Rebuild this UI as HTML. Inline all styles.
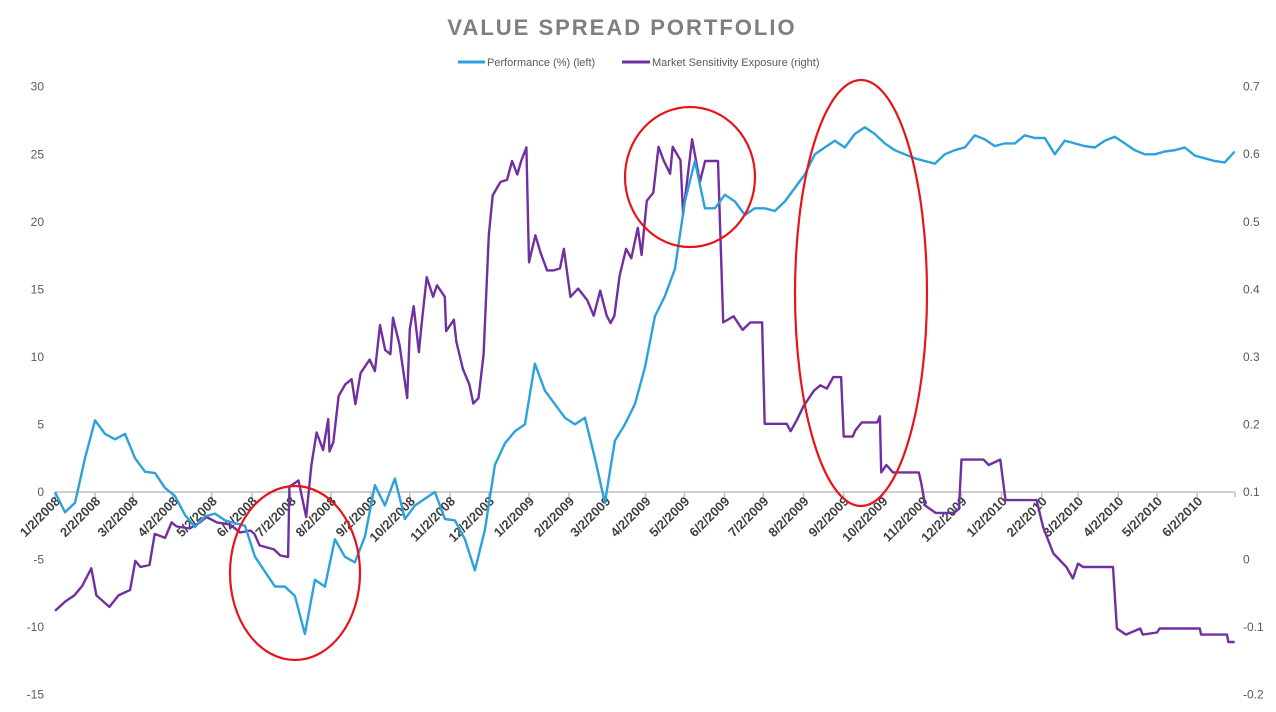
<!DOCTYPE html>
<html><head><meta charset="utf-8"><style>
html,body{margin:0;padding:0;background:#fff;}
svg{display:block;font-family:"Liberation Sans",sans-serif;}
</style></head><body>
<svg id="chart" width="1276" height="712" viewBox="0 0 1276 712" xmlns="http://www.w3.org/2000/svg">
<rect x="0" y="0" width="1276" height="712" fill="#fff"/>
<text x="622" y="35" text-anchor="middle" font-size="22" font-weight="bold" fill="#7f7f7f" letter-spacing="2">VALUE SPREAD PORTFOLIO</text>
<g>
<g>
<line x1="458" y1="62" x2="485" y2="62" stroke="#2ca1dc" stroke-width="3"/>
<text x="487" y="66" font-size="11" fill="#595959">Performance (%) (left)</text>
</g>
<g>
<line x1="622" y1="62" x2="650" y2="62" stroke="#7030a0" stroke-width="3"/>
<text x="652" y="66" font-size="11" fill="#595959">Market Sensitivity Exposure (right)</text>
</g>
</g>
<g id="axes"></g>
<g id="series"></g>
<g fill="none" stroke="#e8141b" stroke-width="2.2">
<ellipse cx="295" cy="573" rx="65" ry="87"/>
<ellipse cx="690" cy="177" rx="65" ry="70"/>
<ellipse cx="861" cy="293" rx="66" ry="213"/>
</g>
</svg>
<script>
// ---- data ----
const leftTicks = [30,25,20,15,10,5,0,-5,-10,-15];
const rightTicks = ["0.7","0.6","0.5","0.4","0.3","0.2","0.1","0","-0.1","-0.2"];
const monthLabels = ["1/2/2008","2/2/2008","3/2/2008","4/2/2008","5/2/2008","6/2/2008","7/2/2008","8/2/2008","9/2/2008","10/2/2008","11/2/2008","12/2/2008","1/2/2009","2/2/2009","3/2/2009","4/2/2009","5/2/2009","6/2/2009","7/2/2009","8/2/2009","9/2/2009","10/2/2009","11/2/2009","12/2/2009","1/2/2010","2/2/2010","3/2/2010","4/2/2010","5/2/2010","6/2/2010"];
const monthDays = [0,31,60,91,121,152,182,213,244,274,305,335,366,397,425,456,486,517,547,578,609,639,670,700,731,762,790,821,851,882];
const perfValues = [0,-1.5,-0.8,2.5,5.3,4.3,3.9,4.3,2.5,1.5,1.4,0.3,-0.3,-1.7,-2.6,-1.8,-1.6,-2.1,-2.3,-2.5,
-4.8,-5.9,-7.0,-7.0,-7.7,-10.5,-6.5,-7.0,-3.5,-4.8,-5.2,-3.3,0.5,-1.0,1.0,-2.0,-1.0,-0.5,0,-2.0,
-2.1,-3.5,-5.8,-2.8,2.0,3.6,4.5,5.0,9.5,7.5,6.5,5.5,5.0,5.5,2.5,-0.8,3.8,5.0,6.5,9.2,
13.0,14.5,16.5,21.5,24.5,21.0,21.0,22.0,21.5,20.5,21.0,21.0,20.8,21.5,22.5,23.5,25.0,25.5,26.0,25.5,
26.5,27.0,26.5,25.8,25.3,25.0,24.7,24.5,24.3,25.0,25.3,25.5,26.4,26.1,25.6,25.8,25.8,26.4,26.2,26.2,
25.0,26.0,25.8,25.6,25.5,26.0,26.3,25.8,25.3,25.0,25.0,25.2,25.3,25.5,24.9,24.7,24.5,24.4,25.2];
const perfEndDay = 911;
const expoDays = [0,8,15,21,28,32,42,49,58,62,66,73,77,85,90,94,104,112,117,125,135,143,151,154,158,169,174,180,181,188,194,198,202,207,211,212,215,219,224,229,232,236,243,247,251,255,259,261,266,272,274,277,281,283,287,292,295,301,302,308,
310,315,320,323,327,331,335,338,344,349,353,357,360,364,366,371,375,380,385,390,393,398,404,411,416,421,426,429,432,436,441,445,450,453,457,462,466,470,475,477,483,485,492,498,502,512,516,524,531,537,546,548,565,568,573,578,586,591,596,601,607,609,
616,618,623,635,637,638,642,647,667,669,672,680,694,698,700,717,721,730,734,758,763,771,781,786,790,794,817,820,827,838,840,851,853,884,885,905,906,911];
const expoValues = [-0.076,-0.062,-0.053,-0.039,-0.013,-0.053,-0.070,-0.053,-0.045,-0.002,-0.011,-0.008,0.038,0.032,0.055,0.049,0.046,0.055,0.063,0.055,0.052,0.040,0.043,0.038,0.021,0.015,0.006,0.004,0.108,0.117,0.063,0.140,0.188,0.162,0.208,0.160,0.174,0.242,0.259,0.267,0.230,0.276,0.296,0.279,0.347,0.310,0.304,0.358,0.318,0.239,0.341,0.375,0.307,0.347,0.418,0.389,0.406,0.389,0.338,0.355,
0.322,0.282,0.259,0.231,0.239,0.304,0.480,0.539,0.559,0.562,0.590,0.570,0.590,0.610,0.440,0.480,0.454,0.428,0.428,0.431,0.460,0.389,0.401,0.384,0.361,0.398,0.361,0.350,0.361,0.420,0.460,0.446,0.491,0.451,0.531,0.543,0.611,0.591,0.571,0.611,0.591,0.511,0.622,0.559,0.590,0.590,0.351,0.360,0.340,0.351,0.351,0.201,0.201,0.190,0.207,0.227,0.250,0.258,0.253,0.270,0.270,0.182,
0.182,0.191,0.203,0.203,0.212,0.129,0.140,0.129,0.129,0.112,0.080,0.069,0.069,0.075,0.148,0.148,0.140,0.148,0.088,0.088,0.048,0.009,-0.011,-0.028,-0.006,-0.011,-0.011,-0.102,-0.111,-0.102,-0.111,-0.108,-0.102,-0.102,-0.111,-0.111,-0.122,-0.122];

// ---- scales ----
const X0 = 55, PXDAY = 1.295;
const xScale = d => X0 + d * PXDAY;
const yLeft = v => 492 - v * 13.51;
const yRight = v => 492 - (v - 0.1) * 675.6;
const NS = "http://www.w3.org/2000/svg";
const axes = document.getElementById('axes');
const series = document.getElementById('series');
function mk(tag, attrs, parent){ const e=document.createElementNS(NS,tag); for(const k in attrs) e.setAttribute(k,attrs[k]); parent.appendChild(e); return e; }

const axisLine = mk('line',{x1:55,y1:yLeft(0),x2:1235,y2:yLeft(0),stroke:'#bfbfbf','stroke-width':1.5},axes);



leftTicks.forEach(v=>{
  const t = mk('text',{x:44,y:yLeft(v)+4,'text-anchor':'end','font-size':12,fill:'#595959'},axes);
  t.textContent = v;
  
  
});
rightTicks.forEach(s=>{
  const t = mk('text',{x:1243,y:yRight(parseFloat(s))+4,'text-anchor':'start','font-size':12,fill:'#595959'},axes);
  t.textContent = s;
  
  
});
monthLabels.forEach((lab,i)=>{
  const x = xScale(monthDays[i]);
  const tk = mk('line',{x1:x,y1:yLeft(0),x2:x,y2:yLeft(0)+5,stroke:'#bfbfbf','stroke-width':1.5},axes);
  
  
  const t = mk('text',{x:x+6,y:yLeft(0)+10,'text-anchor':'end','font-size':13,'font-weight':'bold',fill:'#404040',transform:`rotate(-45 ${x+6} ${yLeft(0)+10})`},axes);
  t.textContent = lab;
  
  
});
const endTk = mk('line',{x1:1235,y1:yLeft(0),x2:1235,y2:yLeft(0)+5,stroke:'#bfbfbf','stroke-width':1.5},axes);



const ep = expoDays.map((d,i)=>`${xScale(d).toFixed(1)},${yRight(expoValues[i]).toFixed(1)}`).join(' ');
const expoLine = mk('polyline',{points:ep,fill:'none',stroke:'#7030a0','stroke-width':2.4,'stroke-linejoin':'round'},series);



const step = perfEndDay/(perfValues.length-1);
const pp = perfValues.map((v,i)=>`${xScale(i*step).toFixed(1)},${yLeft(v).toFixed(1)}`).join(' ');
const perfLine = mk('polyline',{points:pp,fill:'none',stroke:'#2ca1dc','stroke-width':2.4,'stroke-linejoin':'round'},series);


</script>
</body></html>
